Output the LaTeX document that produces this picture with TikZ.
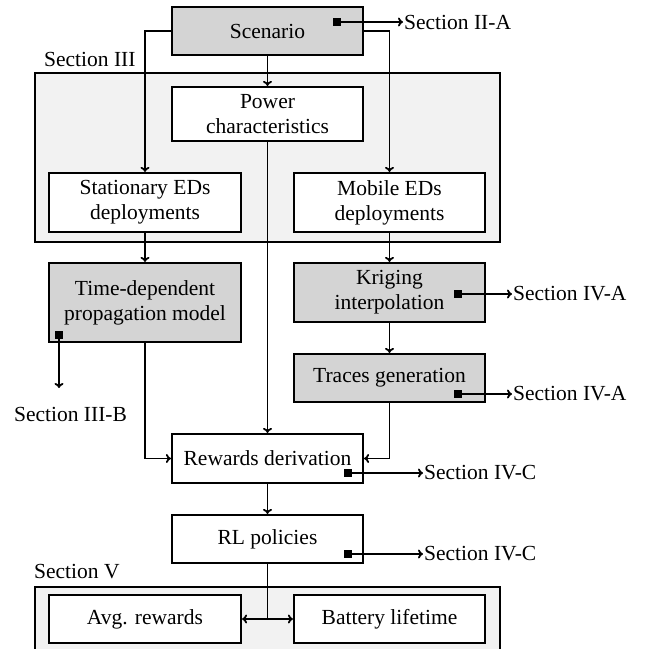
\documentclass[tikz,border=0pt]{standalone}
\usepackage{fontspec}
\usetikzlibrary{arrows.meta}
\setmainfont{Liberation Serif}
\definecolor{boxgray}{RGB}{212,212,212}
\definecolor{areagray}{RGB}{242,242,242}
\begin{document}
\begin{tikzpicture}[x=1pt,y=-1pt,
  every node/.style={font=\fontsize{21.5}{25}\selectfont},
  blk/.style={draw=black, line width=2.2pt, fill=white, minimum width=191pt, align=center, inner sep=2pt},
  gblk/.style={blk, fill=boxgray},
  area/.style={draw=black, line width=1.6pt, fill=areagray},
  conn/.style={line width=1.8pt, -{To[length=5pt,width=9pt]}},
  dconn/.style={line width=1.8pt, {To[length=5pt,width=9pt]}-{To[length=5pt,width=9pt]}},
  plain/.style={line width=1.8pt},
  mark sq/.style={fill=black, minimum size=8pt, inner sep=0pt},
  seclabel/.style={inner sep=1pt}
]
\useasboundingbox (0,0) rectangle (646,649);

% section areas
\draw[area] (35,73) rectangle (500,242);
\draw[area] (35,587) rectangle (500,660);
\node[seclabel, anchor=west] (s3) at (43,59) {Section III};
\node[seclabel, anchor=west] (s5) at (33,572) {Section V};

% blocks
\node[gblk, minimum height=48pt] (scen) at (267.5,31) {Scenario};
\node[blk, minimum height=54pt] (power) at (267.5,114) {Power\\characteristics};
\node[blk, minimum height=59pt, minimum width=192pt] (stat) at (145,202.5) {Stationary EDs\\deployments};
\node[blk, minimum height=59pt] (mob) at (389.5,202.5) {Mobile EDs\\deployments};
\node[gblk, minimum height=79pt, minimum width=192pt] (time) at (145,302.5) {Time-dependent\\propagation model};
\node[gblk, minimum height=59pt] (krig) at (389.5,292.5) {Kriging\\interpolation};
\node[gblk, minimum height=48pt] (trace) at (389.5,378) {Traces generation};
\node[blk, minimum height=49pt] (rew) at (267.5,458.5) {Rewards derivation};
\node[blk, minimum height=48pt] (rl) at (267.5,539) {RL policies};
\node[blk, minimum height=48pt, minimum width=192pt] (avg) at (145,619) {Avg. rewards};
\node[blk, minimum height=48pt] (bat) at (389.5,619) {Battery lifetime};

% main connectors
\draw[conn] (scen.west) -| (stat.north);
\draw[conn] (scen.east) -| (mob.north);
\draw[conn] (scen.south) -- (power.north);
\draw[conn] (stat.south) -- (time.north);
\draw[conn] (mob.south) -- (krig.north);
\draw[conn] (krig.south) -- (trace.north);
\draw[conn] (power.south) -- (rew.north);
\draw[conn] (time.south) |- (rew.west);
\draw[conn] (trace.south) |- (rew.east);
\draw[conn] (rew.south) -- (rl.north);
\coordinate (split) at (rl.south |- avg.east);
\draw[plain] (rl.south) -- (split);
\draw[dconn] (avg.east) -- (bat.west);

% section references
\node[mark sq] (m1) at (337,22) {};
\node[seclabel, anchor=west] (r1) at (403,22) {Section II-A};
\draw[conn] (m1.center) -- (r1.west);

\node[mark sq] (m2) at (458,294) {};
\node[seclabel, anchor=west] (r2) at (512,294) {Section IV-A};
\draw[conn] (m2.center) -- (r2.west);

\node[mark sq] (m3) at (458,394) {};
\node[seclabel, anchor=west] (r3) at (512,394) {Section IV-A};
\draw[conn] (m3.center) -- (r3.west);

\node[mark sq] (m4) at (59,335) {};
\coordinate (e4) at (59,388);
\node[seclabel] (r4) at (70.5,414) {Section III-B};
\draw[conn] (m4.center) -- (e4);

\node[mark sq] (m5) at (348,473) {};
\node[seclabel, anchor=west] (r5) at (423,473) {Section IV-C};
\draw[conn] (m5.center) -- (r5.west);

\node[mark sq] (m6) at (348,554) {};
\node[seclabel, anchor=west] (r6) at (423,554) {Section IV-C};
\draw[conn] (m6.center) -- (r6.west);
\end{tikzpicture}
\end{document}
